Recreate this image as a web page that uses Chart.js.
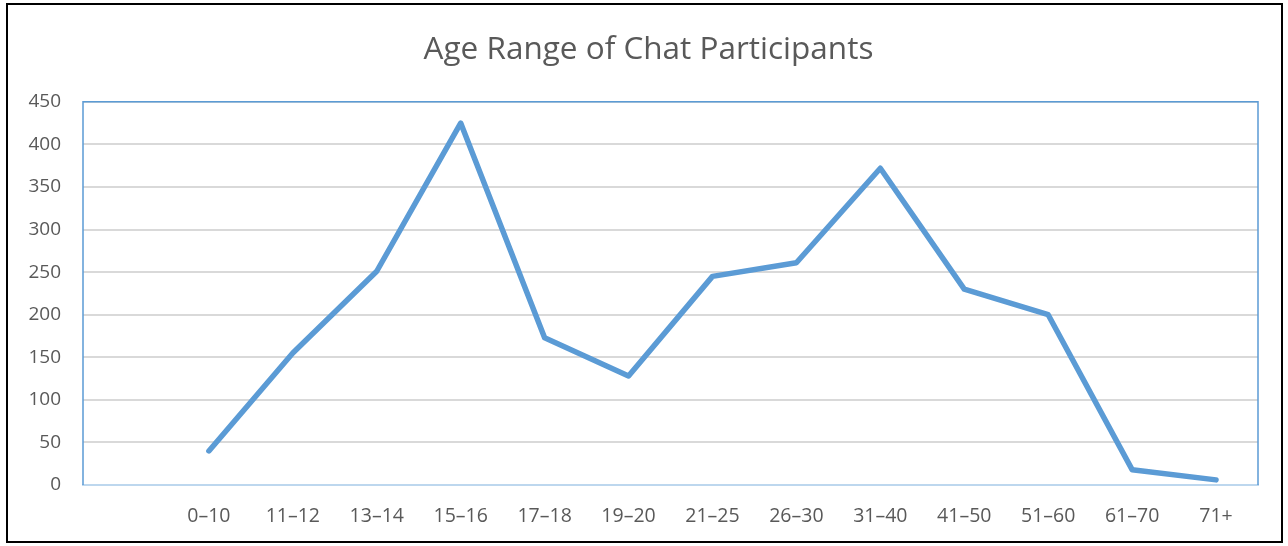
<!DOCTYPE html>
<html>
<head>
<meta charset="utf-8">
<script src="https://cdn.jsdelivr.net/npm/chart.js@4/dist/chart.umd.min.js"></script>
<style>
  html, body { margin: 0; padding: 0; background: #fff; }
  #wrap { position: relative; width: 1288px; height: 546px; }
  #frame { position: absolute; left: 6px; top: 3px; width: 1277px; height: 540px; border: 2px solid #000; box-sizing: border-box; pointer-events: none; }
</style>
</head>
<body>
<div id="wrap">
  <canvas id="chart" width="1288" height="546"></canvas>
  <div id="frame"></div>
</div>
<script>
const titleText = "Age Range of Chat Participants";
const ageLabels = ["", "0–10", "11–12", "13–14", "15–16", "17–18", "19–20", "21–25", "26–30", "31–40", "41–50", "51–60", "61–70", "71+"];
const participants = [null, 40, 155, 251, 425, 173, 128, 245, 261, 372, 230, 200, 18, 6];
const yTicks = [0, 50, 100, 150, 200, 250, 300, 350, 400, 450];

// blue frame round the plot area (left, top, right)
const plotBorder = {
  id: "plotBorder",
  afterLayout(c) {
    // centre the title on the whole frame, not only on the padded box
    if (c.titleBlock) c.titleBlock.right = c.width + 9;
  },
  afterDraw(c) {
    const a = c.chartArea;
    const ctx = c.ctx;
    ctx.save();
    ctx.strokeStyle = "#5b9bd5";
    ctx.lineWidth = 1.5;
    ctx.beginPath();
    ctx.moveTo(a.left, a.bottom);
    ctx.lineTo(a.left, a.top);
    ctx.lineTo(a.right, a.top);
    ctx.lineTo(a.right, a.bottom);
    ctx.stroke();
    ctx.restore();
  },
};

new Chart(document.getElementById("chart"), {
  type: "line",
  data: {
    labels: ageLabels,
    datasets: [{
      data: participants,
      borderColor: "#5b9bd5",
      borderWidth: 5.5,
      pointRadius: 0,
      tension: 0,
      borderCapStyle: "round",
      borderJoinStyle: "round",
    }],
  },
  options: {
    responsive: false,
    animation: false,
    layout: { padding: { left: 0, right: 30, top: 0, bottom: 0 } },
    plugins: {
      legend: { display: false },
      tooltip: { enabled: false },
      title: {
        display: true,
        text: titleText,
        color: "#595959",
        font: { family: "Open Sans", size: 31.5, weight: "normal" },
        padding: { top: 31, bottom: 33 },
      },
    },
    scales: {
      x: {
        offset: true,
        grid: { display: false, drawTicks: false },
        border: { color: "#bdd7ee", width: 2 },
        ticks: { color: "#595959", font: { family: "Open Sans", size: 19.5 }, padding: 20, maxRotation: 0, autoSkip: false },
        afterFit: (s) => { s.height = 61; },
      },
      y: {
        min: 0,
        max: 450,
        afterBuildTicks: (s) => { s.ticks = yTicks.map((v) => ({ value: v })); },
        grid: { color: "#d9d9d9", lineWidth: 2, drawTicks: false },
        border: { display: false },
        ticks: { color: "#595959", font: { family: "Open Sans", size: 19 }, padding: 22 },
        afterFit: (s) => { s.width = 83; },
      },
    },
  },
  plugins: [plotBorder],
});
</script>
</body>
</html>
